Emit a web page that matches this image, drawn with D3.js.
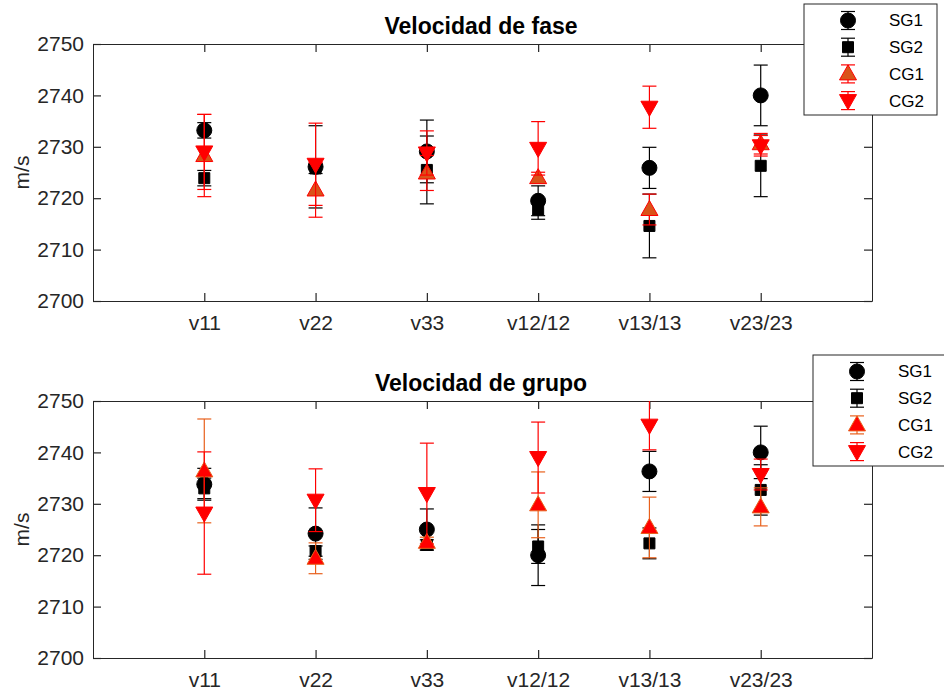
<!DOCTYPE html>
<html>
<head>
<meta charset="utf-8">
<script src="https://cdn.jsdelivr.net/npm/d3@7"></script>
<style>
body { margin: 0; background: #fff; }
svg { display: block; font-family: "Liberation Sans", Arial, sans-serif; }
</style>
</head>
<body>
<svg id="chart" width="944" height="695"></svg>
<script>
const categories = ["v11", "v22", "v33", "v12/12", "v13/13", "v23/23"];
const yTicks = [2700, 2710, 2720, 2730, 2740, 2750];
const seriesNames = ["SG1", "SG2", "CG1", "CG2"];

// Velocidad de fase
const faseSG1 = [2733.2, 2726.1, 2729.1, 2719.5, 2725.9, 2740.0];
const faseSG1err = [1.5, 8.0, 6.1, 2.9, 4.0, 5.9];
const faseSG2 = [2723.9, 2725.8, 2725.5, 2717.8, 2714.6, 2726.3];
const faseSG2err = [1.5, 1.0, 6.6, 1.9, 6.2, 6.0];
const faseCG1 = [2728.3, 2721.6, 2724.9, 2724.0, 2717.8, 2730.6];
const faseCG1err = [8.0, 5.3, 3.4, 1.05, 3.0, 2.0];
const faseCG2 = [2729.0, 2726.6, 2728.8, 2729.7, 2737.7, 2730.2];
const faseCG2err = [7.3, 8.0, 4.3, 5.2, 4.1, 2.0];

// Velocidad de grupo
const grupoSG1 = [2733.8, 2724.2, 2725.0, 2720.0, 2736.3, 2740.0];
const grupoSG1err = [3.1, 5.0, 4.0, 5.9, 3.9, 5.1];
const grupoSG2 = [2733.0, 2720.8, 2722.0, 2721.7, 2722.3, 2732.7];
const grupoSG2err = [2.0, 1.0, 1.0, 3.3, 3.0, 4.9];
const grupoCG1 = [2736.4, 2719.4, 2722.5, 2729.8, 2725.4, 2729.4];
const grupoCG1err = [10.1, 3.0, 1.0, 6.4, 5.9, 3.7];
const grupoCG2 = [2728.2, 2730.7, 2732.0, 2739.0, 2745.3, 2735.7];
const grupoCG2err = [11.9, 6.1, 9.8, 6.9, 4.8, 3.0];

const svg = d3.select("#chart");
const axisColor = "#262626";

function markerPath(shape) {
  if (shape === "circle") return d3.symbol().type(d3.symbolCircle).size(Math.PI * 7.5 * 7.5)();
  if (shape === "square") return "M-5.5,-5.5H5.5V5.5H-5.5Z";
  if (shape === "up") return "M0,-9L8.5,6L-8.5,6Z";
  return "M0,9L8.5,-6L-8.5,-6Z";
}

function panel(cfg) {
  const x = d3.scaleLinear().domain([0, categories.length + 1]).range([93, 872]);
  const y = d3.scaleLinear().domain([2700, 2750]).range([cfg.bottom, cfg.top]);
  const g = svg.append("g");
  const clipId = "clip" + cfg.id;
  g.append("clipPath").attr("id", clipId).append("rect")
    .attr("x", 93).attr("y", cfg.top).attr("width", 779).attr("height", cfg.bottom - cfg.top);

  const tickPos = categories.map((c, i) => i + 1);
  const fmtCat = d => categories[d - 1];

  const gb = g.append("g").attr("transform", `translate(0,${cfg.bottom})`)
    .call(d3.axisBottom(x).tickValues(tickPos).tickFormat(fmtCat).tickSizeInner(-8).tickSizeOuter(0).tickPadding(14));
  const gt = g.append("g").attr("transform", `translate(0,${cfg.top})`)
    .call(d3.axisTop(x).tickValues(tickPos).tickFormat("").tickSizeInner(-8).tickSizeOuter(0));
  const gl = g.append("g").attr("transform", `translate(93,0)`)
    .call(d3.axisLeft(y).tickValues(yTicks).tickFormat(d3.format("d")).tickSizeInner(-8).tickSizeOuter(0).tickPadding(9));
  const gr = g.append("g").attr("transform", `translate(872,0)`)
    .call(d3.axisRight(y).tickValues(yTicks).tickFormat("").tickSizeInner(-8).tickSizeOuter(0));
  [gb, gt, gl, gr].forEach(a => {
    a.select(".domain").attr("stroke", axisColor).attr("stroke-width", 1);
    a.selectAll(".tick line").attr("stroke", axisColor).attr("stroke-width", 1.2);
    a.selectAll(".tick text").attr("fill", axisColor).style("font-size", "21px")
      .style("font-family", "'Liberation Sans', Arial, sans-serif");
  });

  g.append("text").attr("x", 481).attr("y", cfg.top - 10).attr("text-anchor", "middle")
    .style("font-size", "23px").style("font-weight", "bold").attr("fill", "#000").text(cfg.title);
  g.append("text").attr("transform", `translate(29,${(cfg.top + cfg.bottom) / 2}) rotate(-90)`)
    .attr("text-anchor", "middle").style("font-size", "21px").attr("fill", axisColor).text("m/s");

  const plot = g.append("g").attr("clip-path", `url(#${clipId})`);
  cfg.series.forEach(s => {
    const sg = plot.append("g");
    s.vals.forEach((v, i) => {
      const cx = x(i + 1), e = s.err[i];
      const y1 = y(v + e), y2 = y(v - e);
      sg.append("line").attr("x1", cx).attr("x2", cx).attr("y1", y1).attr("y2", y2)
        .attr("stroke", s.line).attr("stroke-width", 1.2);
      [y1, y2].forEach(yy => sg.append("line").attr("x1", cx - 7).attr("x2", cx + 7)
        .attr("y1", yy).attr("y2", yy).attr("stroke", s.line).attr("stroke-width", 1.2));
    });
    sg.selectAll("path.m").data(s.vals).enter().append("path")
      .attr("d", markerPath(s.shape))
      .attr("transform", (v, i) => `translate(${x(i + 1)},${y(v)})`)
      .attr("fill", s.fill).attr("stroke", s.edge).attr("stroke-width", 1);
  });

  const L = cfg.legend;
  const lg = svg.append("g");
  lg.append("rect").attr("x", L.x).attr("y", L.y).attr("width", L.w).attr("height", L.h)
    .attr("fill", "#fff").attr("stroke", axisColor).attr("stroke-width", 1);
  cfg.series.forEach((s, k) => {
    const yy = L.y + 16.5 + k * 26.7;
    const mx = L.x + 44;
    lg.append("line").attr("x1", mx).attr("x2", mx).attr("y1", yy - 9).attr("y2", yy + 9)
      .attr("stroke", s.line).attr("stroke-width", 1.2);
    [yy - 9, yy + 9].forEach(cy => lg.append("line").attr("x1", mx - 7).attr("x2", mx + 7)
      .attr("y1", cy).attr("y2", cy).attr("stroke", s.line).attr("stroke-width", 1.2));
    lg.append("path").attr("d", markerPath(s.shape)).attr("transform", `translate(${mx},${yy})`)
      .attr("fill", s.fill).attr("stroke", s.edge).attr("stroke-width", 1);
    lg.append("text").attr("x", L.x + 85).attr("y", yy).attr("dy", "0.35em")
      .style("font-size", "17px").attr("fill", "#000").text(seriesNames[k]);
  });
}

panel({
  id: 1, top: 44, bottom: 301, title: "Velocidad de fase",
  legend: { x: 804, y: 4, w: 133, h: 111 },
  series: [
    { vals: faseSG1, err: faseSG1err, shape: "circle", fill: "#000", edge: "#000", line: "#000" },
    { vals: faseSG2, err: faseSG2err, shape: "square", fill: "#000", edge: "#000", line: "#000" },
    { vals: faseCG1, err: faseCG1err, shape: "up", fill: "#D95319", edge: "#FF0000", line: "#FF0000" },
    { vals: faseCG2, err: faseCG2err, shape: "down", fill: "#FF0000", edge: "#FF0000", line: "#FF0000" }
  ]
});

panel({
  id: 2, top: 401, bottom: 658, title: "Velocidad de grupo",
  legend: { x: 813, y: 355, w: 140, h: 111 },
  series: [
    { vals: grupoSG1, err: grupoSG1err, shape: "circle", fill: "#000", edge: "#000", line: "#000" },
    { vals: grupoSG2, err: grupoSG2err, shape: "square", fill: "#000", edge: "#000", line: "#000" },
    { vals: grupoCG1, err: grupoCG1err, shape: "up", fill: "#FF0000", edge: "#E8601C", line: "#E8601C" },
    { vals: grupoCG2, err: grupoCG2err, shape: "down", fill: "#FF0000", edge: "#FF0000", line: "#FF0000" }
  ]
});
</script>
</body>
</html>
